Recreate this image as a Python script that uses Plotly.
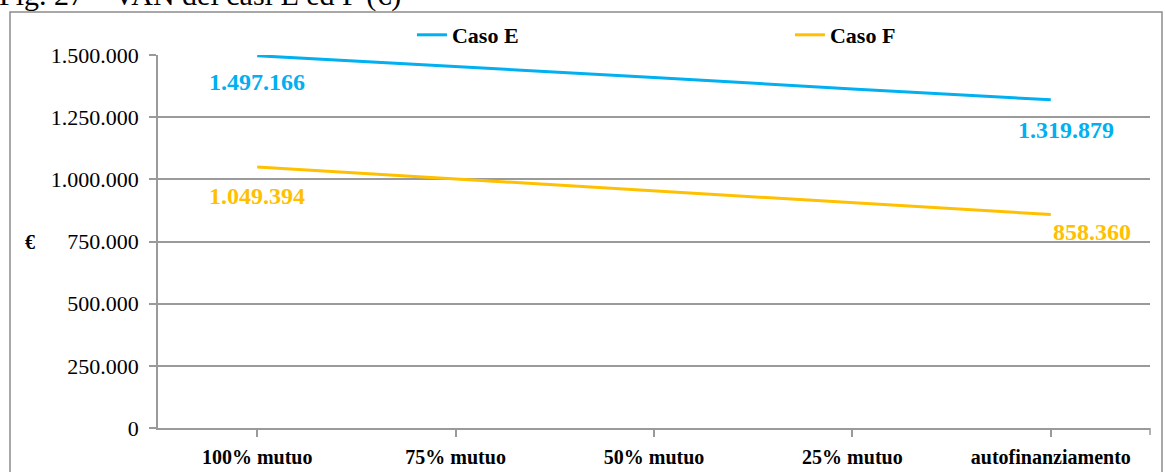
import plotly.graph_objects as go

# Scenari di finanziamento (asse delle categorie)
categorie = ["100% mutuo", "75% mutuo", "50% mutuo", "25% mutuo", "autofinanziamento"]

# VAN in euro per i due casi
caso_e = [1497166, 1455000, 1410000, 1363000, 1319879]
caso_f = [1049394, 1001000, 954000, 905000, 858360]

tick_valori = [0, 250000, 500000, 750000, 1000000, 1250000, 1500000]

BLU = "#00B0F0"
GIALLO = "#FFC000"
GRIGIO = "#9a9a9a"
SERIF = "Liberation Serif, Times New Roman, serif"

fig = go.Figure()
fig.add_trace(go.Scatter(x=categorie, y=caso_e, mode="lines", name="Caso E",
                         line=dict(color=BLU, width=3)))
fig.add_trace(go.Scatter(x=categorie, y=caso_f, mode="lines", name="Caso F",
                         line=dict(color=GIALLO, width=3)))

# Etichette dei valori agli estremi delle serie
etichette = [
    (categorie[0], caso_e[0], BLU, 0, -26),
    (categorie[0], caso_f[0], GIALLO, 0, -29),
    (categorie[-1], caso_e[-1], BLU, 15, -30),
    (categorie[-1], caso_f[-1], GIALLO, 41, -17),
]
for cat, val, col, dx, dy in etichette:
    fig.add_annotation(x=cat, y=val, xref="x", yref="y",
                       text=f"{val:,}".replace(",", "."),
                       showarrow=False, xanchor="center", yanchor="middle",
                       xshift=dx, yshift=dy,
                       font=dict(family=SERIF, size=24, color=col, weight="bold"))

H = 472
TOP, BOTTOM = 55, 44
plot_h = H - TOP - BOTTOM


def py(p):
    """Pixel row -> paper y."""
    return (H - BOTTOM - p) / plot_h


# Simbolo della valuta accanto all'asse verticale
fig.add_annotation(x=-0.129, y=py(242), xref="paper", yref="paper", text="€",
                   showarrow=False, xanchor="center", yanchor="middle",
                   font=dict(family=SERIF, size=20, color="black", weight="bold"))

# Didascalia della figura, in testa alla pagina
fig.add_annotation(x=-0.162, y=py(-5), xref="paper", yref="paper",
                   text="Fig. 27 – VAN dei casi E ed F (€)",
                   showarrow=False, xanchor="left", yanchor="middle",
                   font=dict(family=SERIF, size=30, color="black"))

# Cornice dell'area del grafico
fig.add_shape(type="rect", xref="paper", yref="paper",
              x0=(10 - 158) / 992, x1=(1162 - 158) / 992, y0=py(490), y1=py(12),
              line=dict(color="#8c8c8c", width=1.5), fillcolor="rgba(0,0,0,0)", layer="below")

# Tacca finale dell'asse delle categorie
fig.add_shape(type="line", xref="paper", yref="paper", x0=1, x1=1, y0=0, y1=-7 / plot_h,
              line=dict(color=GRIGIO, width=1.5))

fig.update_layout(
    width=1165, height=H,
    margin=dict(l=158, r=15, t=TOP, b=BOTTOM, autoexpand=False),
    paper_bgcolor="white", plot_bgcolor="white",
    separators=",.",
    showlegend=True,
    legend=dict(orientation="h", x=0.256, y=py(14), xanchor="left", yanchor="top",
                entrywidth=333, entrywidthmode="pixels",
                font=dict(family=SERIF, size=22, color="black", weight="bold"),
                bgcolor="rgba(0,0,0,0)"),
    xaxis=dict(type="category", range=[-0.5, 4.5], showgrid=False, automargin=False,
               showline=True, linecolor=GRIGIO, linewidth=1.5,
               ticks="outside", ticklen=7, tickcolor=GRIGIO, tickwidth=1.5,
               ticklabelstandoff=3,
               tickfont=dict(family=SERIF, size=20, color="black", weight="bold")),
    yaxis=dict(range=[0, 1500000], tickvals=tick_valori, tickformat=",d", automargin=False,
               showgrid=True, gridcolor=GRIGIO, gridwidth=1.5, zeroline=False,
               showline=True, linecolor=GRIGIO, linewidth=1.5,
               ticks="outside", ticklen=7, tickcolor=GRIGIO, tickwidth=1.5,
               ticklabelstandoff=6,
               tickfont=dict(family=SERIF, size=22, color="black")),
)

fig.write_html("out.html")
